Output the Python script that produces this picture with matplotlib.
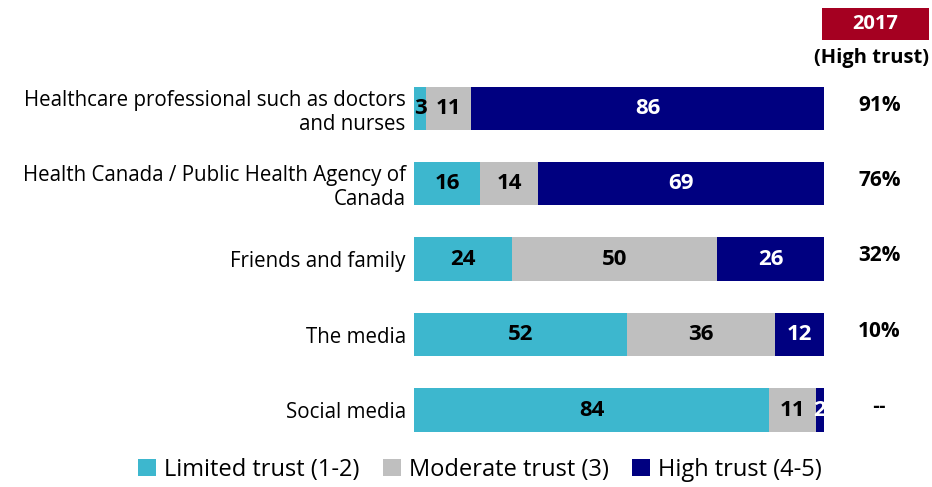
import matplotlib
matplotlib.use("Agg")
import matplotlib.pyplot as plt
import matplotlib.patches as patches

categories = [
    "Healthcare professional such as doctors\nand nurses",
    "Health Canada / Public Health Agency of\nCanada",
    "Friends and family",
    "The media",
    "Social media",
]
limited = [3, 16, 24, 52, 84]
moderate = [11, 14, 50, 36, 11]
high = [86, 69, 26, 12, 2]
high_2017 = ["91%", "76%", "32%", "10%", "--"]
series_names = ["Limited trust (1-2)", "Moderate trust (3)", "High trust (4-5)"]
colors = ["#3DB7CE", "#BFBFBF", "#000080"]
text_colors = ["black", "black", "white"]

FONT = "Open Sans"

fig = plt.figure(figsize=(9.32, 4.87), dpi=100)
ax = fig.add_axes([0.4442, 0.0806, 0.4399, 0.7751])

# bars are scaled to 100% of each row (rounded values may not sum to 100)
totals = [a + b + c for a, b, c in zip(limited, moderate, high)]
y = list(range(len(categories)))
left = [0.0] * len(categories)
for vals, col, tcol in zip([limited, moderate, high], colors, text_colors):
    widths = [100.0 * v / t for v, t in zip(vals, totals)]
    ax.barh(y, widths, left=left, height=0.57, color=col, edgecolor="none")
    for i, v in enumerate(vals):
        ax.text(left[i] + widths[i] / 2, i, str(v), ha="center", va="center",
                color=tcol, fontsize=16, fontweight="bold", family=FONT)
    left = [l + w for l, w in zip(left, widths)]

ax.set_xlim(0, 100)
ax.set_ylim(len(categories) - 0.5, -0.5)
ax.set_yticks(y)
ax.set_yticklabels(categories, fontsize=14.8, family=FONT, linespacing=1.2)
ax.tick_params(axis="y", length=0, pad=6)
ax.set_xticks([])
for s in ax.spines.values():
    s.set_visible(False)

# 2017 column
for i, txt in enumerate(high_2017):
    fam = FONT if txt != "--" else "DejaVu Sans"
    ax.text(113.5, i - 0.04, txt, ha="center", va="center",
            fontsize=15 if txt != "--" else 12,
            fontweight="bold", family=fam, clip_on=False)

fig.patches.append(patches.Rectangle((822 / 932, 1 - 40 / 487), 107 / 932, 32 / 487,
                                     transform=fig.transFigure,
                                     facecolor="#A50021", edgecolor="none"))
fig.text(875.5 / 932, 1 - 24 / 487, "2017", ha="center", va="center",
         color="white", fontsize=14.5, fontweight="bold", family=FONT)
fig.text(872 / 932, 1 - 58 / 487, "(High trust)", ha="center", va="center",
         color="black", fontsize=14.5, fontweight="bold", family=FONT)

handles = [patches.Patch(facecolor=c, edgecolor="none") for c in colors]
fig.legend(handles, series_names, loc="center", bbox_to_anchor=(480 / 932, 1 - 470 / 487),
           ncol=3, frameon=False, prop={"family": FONT, "size": 17},
           handlelength=0.75, handleheight=0.75, handletextpad=0.35, columnspacing=1.0,
           borderpad=0, borderaxespad=0)

fig.savefig("out.png", dpi=100)
